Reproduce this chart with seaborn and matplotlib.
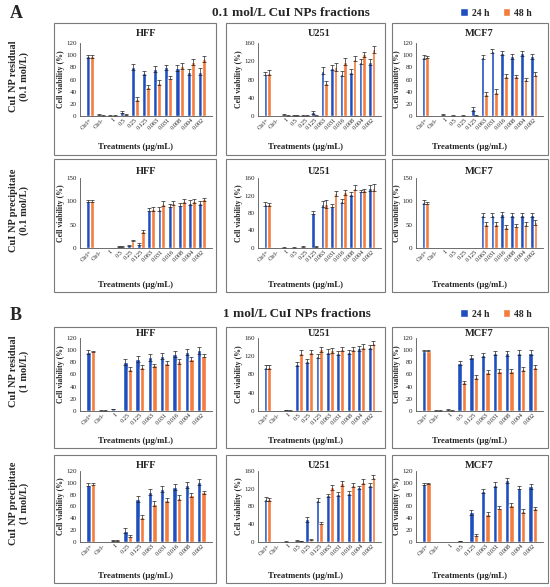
import pandas as pd
import matplotlib
matplotlib.use("Agg")
import matplotlib.pyplot as plt
import seaborn as sns
from matplotlib.patches import Rectangle, Patch

# -------------------------
# DATA
# -------------------------
times = ["24 h", "48 h"]

labels_full = ["Ctrl+", "Ctrl-", "1", "0.5", "0.25", "0.125", "0.063", "0.031", "0.016", "0.008", "0.004", "0.002"]
labels_a1_hff = ["Ctrl+", "Ctrl-", "1", "0.5", "0.25", "0.125", "0.063", "0.031", "0.008", "0.004", "0.002"]
labels_b1_hff = ["Ctrl+", "Ctrl-", "1", "0.25", "0.125", "0.063", "0.031", "0.016", "0.004", "0.002"]
labels_b1_u251 = ["Ctrl+", "Ctrl-", "1", "0.5", "0.25", "0.125", "0.063", "0.031", "0.008", "0.004", "0.002"]
labels_b_mcf7 = ["Ctrl+", "Ctrl-", "1", "0.5", "0.125", "0.063", "0.031", "0.008", "0.004", "0.002"]
labels_b2_hff = ["Ctrl+", "Ctrl-", "1", "0.25", "0.125", "0.063", "0.031", "0.016", "0.008", "0.002"]
labels_b2_u251 = ["Ctrl+", "Ctrl-", "1", "0.5", "0.25", "0.125", "0.063", "0.031", "0.016", "0.004", "0.002"]

# A - 0.1 mol/L residual
a1_hff_24 = [98, 2, 1, 6, 80, 71, 77, 80, 79, 73, 73]
a1_hff_48 = [98, 1, 1, 3, 28, 48, 55, 63, 82, 89, 94]
a1_hff_e24 = [3, 1, 0.5, 1.5, 5, 3, 5, 4, 5, 5, 6]
a1_hff_e48 = [2, 0.5, 0.5, 1, 3, 3, 4, 3, 5, 5, 5]

a1_u251_24 = [93, 0, 3, 1, 2, 8, 99, 106, 93, 97, 119, 118]
a1_u251_48 = [95, 0, 1, 1, 1, 2, 73, 107, 119, 126, 135, 146]
a1_u251_e24 = [4, 0, 1, 0.5, 1, 4, 8, 6, 6, 5, 5, 6]
a1_u251_e48 = [5, 0, 0.5, 0.5, 0.5, 1, 4, 9, 8, 6, 6, 8]

a1_mcf7_24 = [97, 0, 2, 1, 1, 12, 97, 107, 104, 98, 103, 98]
a1_mcf7_48 = [97, 0, 0, 0, 0, 1, 36, 40, 66, 65, 60, 69]
a1_mcf7_e24 = [3, 0, 0.5, 0.5, 0.5, 3, 4, 3, 3, 4, 4, 4]
a1_mcf7_e48 = [2, 0, 0, 0, 0, 0.5, 3, 4, 3, 3, 2, 3]

# A - 0.1 mol/L precipitate
a2_hff_24 = [100, 0, 0, 4, 6, 8, 82, 83, 91, 93, 97, 97]
a2_hff_48 = [100, 0, 0, 3, 16, 36, 83, 95, 97, 100, 100, 104]
a2_hff_e24 = [2, 0, 0, 1, 1, 2, 3, 4, 4, 4, 5, 4]
a2_hff_e48 = [2, 0, 0, 1, 2, 3, 4, 5, 4, 4, 4, 4]

a2_u251_24 = [101, 0, 1, 1, 3, 81, 100, 97, 107, 124, 130, 137]
a2_u251_48 = [100, 0, 0, 0, 0, 4, 100, 125, 127, 138, 132, 138]
a2_u251_e24 = [4, 0, 0.5, 0.5, 1, 3, 7, 4, 5, 5, 3, 6]
a2_u251_e48 = [4, 0, 0, 0, 0, 1, 9, 5, 5, 6, 4, 8]

a2_mcf7_24 = [98, 0, 0, 0, 0, 0, 71, 71, 72, 71, 71, 71]
a2_mcf7_48 = [97, 0, 0, 0, 0, 0, 51, 51, 45, 48, 51, 55]
a2_mcf7_e24 = [4, 0, 0, 0, 0, 0, 5, 5, 5, 5, 5, 5]
a2_mcf7_e48 = [2, 0, 0, 0, 0, 0, 4, 4, 4, 4, 4, 5]

# B - 1 mol/L residual
b1_hff_24 = [97, 1, 3, 81, 85, 88, 91, 94, 97, 100]
b1_hff_48 = [98, 1, 0, 69, 72, 75, 79, 82, 85, 91]
b1_hff_e24 = [3, 0.5, 0.5, 5, 5, 5, 5, 5, 5, 6]
b1_hff_e48 = [1, 0.5, 0, 3, 3, 3, 3, 4, 3, 3]

b1_u251_24 = [97, 1, 2, 103, 110, 121, 130, 127, 130, 137, 140]
b1_u251_48 = [97, 1, 1, 128, 129, 135, 133, 136, 136, 141, 149]
b1_u251_e24 = [4, 0, 0.5, 4, 5, 4, 5, 4, 4, 5, 5]
b1_u251_e48 = [4, 0, 0.5, 5, 5, 5, 5, 5, 5, 5, 5]

b1_mcf7_24 = [99, 1, 2, 79, 89, 92, 95, 95, 96, 96]
b1_mcf7_48 = [99, 1, 1, 47, 56, 64, 66, 66, 69, 72]
b1_mcf7_e24 = [1, 0.5, 0.5, 3, 3, 3, 3, 4, 4, 4]
b1_mcf7_e48 = [1, 0.5, 0.5, 3, 3, 3, 3, 3, 3, 3]

# B - 1 mol/L precipitate
b2_hff_24 = [97, 0, 3, 19, 73, 85, 89, 93, 96, 101]
b2_hff_48 = [98, 0, 3, 10, 42, 65, 71, 75, 79, 84]
b2_hff_e24 = [3, 0, 0.5, 4, 5, 5, 5, 5, 5, 5]
b2_hff_e48 = [2, 0, 0.5, 2, 3, 4, 4, 4, 3, 3]

b2_u251_24 = [97, 0, 1, 3, 51, 95, 105, 108, 111, 123, 128]
b2_u251_48 = [96, 0, 0, 2, 5, 43, 123, 132, 129, 136, 146]
b2_u251_e24 = [4, 0, 0.5, 1, 6, 5, 4, 4, 5, 4, 5]
b2_u251_e48 = [4, 0, 0, 0.5, 1, 3, 5, 6, 5, 5, 5]

b2_mcf7_24 = [98, 0, 1, 2, 50, 86, 97, 104, 92, 94]
b2_mcf7_48 = [99, 0, 0, 1, 12, 47, 58, 63, 52, 57]
b2_mcf7_e24 = [1, 0, 0, 0.5, 4, 4, 4, 4, 3, 4]
b2_mcf7_e48 = [1, 0, 0, 0, 2, 3, 3, 3, 3, 3]

# -------------------------
# STYLE / LAYOUT
# -------------------------
sns.set_style("white")
plt.rcParams['font.family'] = ['Liberation Serif', 'DejaVu Serif']

blue = "#1f4fbf"
orange = "#f47c3c"
W, H = 550, 587

fig = plt.figure(figsize=(W / 100, H / 100), dpi=100)


def rect(x0, y0, x1, y1):
    # pixel box (top-left origin) -> figure fraction
    return [x0 / W, 1 - y1 / H, (x1 - x0) / W, (y1 - y0) / H]


col_axes_x = [(80, 212), (258, 381), (416, 543)]
row_axes_y = [(43, 116), (178, 248), (338, 411), (471, 542)]
col_box_x = [(54, 216), (226, 385), (392, 548)]
row_box_y = [(23, 155), (159, 292), (327, 448), (455, 583)]
xlabel_y = [147, 285, 441, 576]
title_y = [33, 172, 333, 465]

panels = [
    # row, col, name, labels, 24h, 48h, err24, err48, ymax, ystep
    (0, 0, "HFF", labels_a1_hff, a1_hff_24, a1_hff_48, a1_hff_e24, a1_hff_e48, 120, 20),
    (0, 1, "U251", labels_full, a1_u251_24, a1_u251_48, a1_u251_e24, a1_u251_e48, 160, 40),
    (0, 2, "MCF7", labels_full, a1_mcf7_24, a1_mcf7_48, a1_mcf7_e24, a1_mcf7_e48, 120, 20),
    (1, 0, "HFF", labels_full, a2_hff_24, a2_hff_48, a2_hff_e24, a2_hff_e48, 150, 50),
    (1, 1, "U251", labels_full, a2_u251_24, a2_u251_48, a2_u251_e24, a2_u251_e48, 160, 40),
    (1, 2, "MCF7", labels_full, a2_mcf7_24, a2_mcf7_48, a2_mcf7_e24, a2_mcf7_e48, 150, 50),
    (2, 0, "HFF", labels_b1_hff, b1_hff_24, b1_hff_48, b1_hff_e24, b1_hff_e48, 120, 20),
    (2, 1, "U251", labels_b1_u251, b1_u251_24, b1_u251_48, b1_u251_e24, b1_u251_e48, 160, 40),
    (2, 2, "MCF7", labels_b_mcf7, b1_mcf7_24, b1_mcf7_48, b1_mcf7_e24, b1_mcf7_e48, 120, 20),
    (3, 0, "HFF", labels_b2_hff, b2_hff_24, b2_hff_48, b2_hff_e24, b2_hff_e48, 120, 20),
    (3, 1, "U251", labels_b2_u251, b2_u251_24, b2_u251_48, b2_u251_e24, b2_u251_e48, 160, 40),
    (3, 2, "MCF7", labels_b_mcf7, b2_mcf7_24, b2_mcf7_48, b2_mcf7_e24, b2_mcf7_e48, 120, 20),
]

for row, col, name, labels, v24, v48, e24, e48, ymax, ystep in panels:
    x0, x1 = col_axes_x[col]
    y0, y1 = row_axes_y[row]
    ax = fig.add_axes(rect(x0, y0, x1, y1))

    df = pd.DataFrame({
        "Treatment": labels * 2,
        "Viability": v24 + v48,
        "Time": [times[0]] * len(labels) + [times[1]] * len(labels),
    })
    sns.barplot(data=df, x="Treatment", y="Viability", hue="Time", order=labels,
                hue_order=times, palette=[blue, orange], width=0.74, saturation=1,
                errorbar=None, legend=False, ax=ax)

    # error bars on top of each bar
    errs = [e24, e48]
    for bar in ax.patches:
        cx = bar.get_x() + bar.get_width() / 2
        idx = int(round(cx))
        hue = 0 if cx < idx else 1
        err = errs[hue][idx]
        if err > 0:
            ax.errorbar(cx, bar.get_height(), yerr=err, fmt="none", ecolor="#222222",
                        elinewidth=0.5, capsize=1.2, capthick=0.5)

    ax.set_ylim(0, ymax)
    ax.set_yticks(range(0, ymax + 1, ystep))
    ax.tick_params(axis="y", labelsize=5, length=2, width=0.5, pad=0.5, colors="#222222")
    ax.tick_params(axis="x", labelsize=4.6, length=0, pad=1, colors="#222222")
    plt.setp(ax.get_xticklabels(), rotation=45, ha="right", rotation_mode="anchor")
    for s in ["top", "right"]:
        ax.spines[s].set_visible(False)
    for s in ["left", "bottom"]:
        ax.spines[s].set_linewidth(0.6)
        ax.spines[s].set_color("#555555")

    ax.set_ylabel("Cell viability (%)", fontsize=5.6, fontweight="bold", labelpad=1)
    ax.set_xlabel("")

    cxp = (x0 + x1) / 2
    fig.text(cxp / W, 1 - title_y[row] / H, name, ha="center", va="center",
             fontsize=7.5, fontweight="bold")
    bx0, bx1 = col_box_x[col]
    fig.text((bx0 + bx1) / 2 / W, 1 - xlabel_y[row] / H, "Treatments (μg/mL)",
             ha="center", va="center", fontsize=6.3, fontweight="bold")

    by0, by1 = row_box_y[row]
    fig.patches.append(Rectangle((bx0 / W, 1 - by1 / H), (bx1 - bx0) / W, (by1 - by0) / H,
                                 transform=fig.transFigure, fill=False,
                                 edgecolor="#7a7a7a", linewidth=0.8))

# row labels
row_names = ["CuI NP residual\n(0.1 mol/L)", "CuI NP precipitate\n(0.1 mol/L)",
             "CuI NP residual\n(1 mol/L)", "CuI NP precipitate\n(1 mol/L)"]
for i, txt in enumerate(row_names):
    yc = (row_axes_y[i][0] + row_axes_y[i][1]) / 2 - 3
    fig.text(19 / W, 1 - yc / H, txt, rotation=90, ha="center", va="center",
             multialignment="center", fontsize=7.5, fontweight="bold", linespacing=1.15)

# section headers and legends
headers = [("A", "0.1 mol/L CuI NPs fractions", 14, 291), ("B", "1 mol/L CuI NPs fractions", 315, 297)]
for letter, title, yh, tx in headers:
    fig.text(16 / W, 1 - yh / H, letter, ha="center", va="center", fontsize=13, fontweight="bold")
    fig.text(tx / W, 1 - (yh - 1) / H, title, ha="center", va="center", fontsize=9.5, fontweight="bold")
    handles = [Patch(facecolor=blue, label=times[0]), Patch(facecolor=orange, label=times[1])]
    fig.legend(handles=handles, loc="center", bbox_to_anchor=(496 / W, 1 - (yh - 1) / H), ncol=2,
               frameon=False, handlelength=0.8, handleheight=0.8,
               handletextpad=0.4, columnspacing=1.4, prop={"weight": "bold", "size": 7})

fig.savefig("out.png", dpi=100)
